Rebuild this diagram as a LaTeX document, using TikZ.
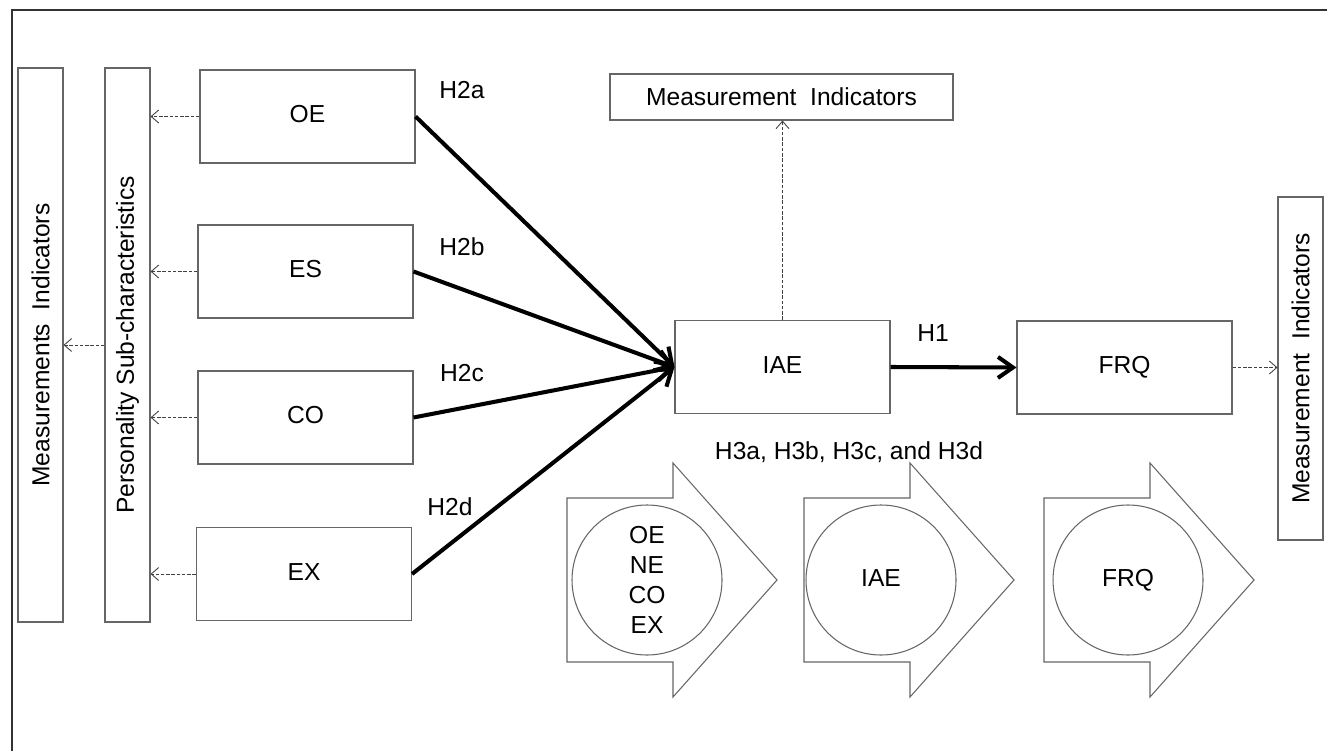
\documentclass[tikz,border=0pt]{standalone}
\usepackage{fontspec}
\setmainfont{Liberation Sans}
\usetikzlibrary{arrows.meta,positioning}

\begin{document}
\begin{tikzpicture}[
  font=\fontsize{14}{17}\selectfont,
  box/.style={draw=black!60, line width=0.6pt, minimum width=4.3cm, minimum height=1.86cm, text height=1.38ex, text depth=0pt},
  tallbox/.style={draw=black!60, line width=0.6pt, rotate=90, inner sep=0pt, minimum width=11.08cm, minimum height=0.9cm},
  indbox/.style={draw=black!60, line width=0.6pt, inner sep=0pt, minimum width=6.86cm, minimum height=0.92cm},
  ring/.style={circle, draw=black!60, line width=0.6pt, minimum size=3cm, align=center, inner sep=0pt},
  outline/.style={draw=black!60, line width=0.6pt, line join=miter},
  dashto/.style={draw=black!75, line width=0.5pt, dash pattern=on 2pt off 1pt, -{Straight Barb[length=1.5mm, width=2.6mm]}},
  hypo/.style={line width=2.3pt, -{Straight Barb[length=3mm, width=4.2mm]}}
]
\useasboundingbox (0,0) rectangle (26.54,-15.02);
\draw[line width=1.3pt, black!80] (0.24,-15.02) -- (0.24,-0.2) -- (26.54,-0.2);

\node[tallbox] (mil) at (0.81,-6.9) {Measurements~ Indicators};
\node[tallbox] (psc) at (2.55,-6.9) {Personality Sub-characteristics};

\node[box] (oe) at (6.15,-2.33) {OE};
\node[box] (es) at (6.11,-5.43) {ES};
\node[box] (co) at (6.11,-8.35) {CO};
\node[box] (ex) at (6.08,-11.48) {EX};

\node[box] (iae) at (15.65,-7.34) {IAE};
\node[box] (frq) at (22.49,-7.35) {FRQ};
\node[indbox] (mit) at (15.63,-1.94) {Measurement~ Indicators};
\node[tallbox, minimum width=6.86cm] (mir) at (26.01,-7.37) {Measurement~ Indicators};

\node (h2a) at (9.24,-1.8) {H2a};
\node (h2b) at (9.24,-4.94) {H2b};
\node (h2c) at (9.24,-7.46) {H2c};
\node (h2d) at (9.0,-10.14) {H2d};
\node (h1) at (18.66,-6.66) {H1};
\node (h3) at (16.98,-9.04) {H3a, H3b, H3c, and H3d};

% dashed links to the indicators
\foreach \b in {oe,es,co,ex}
  \draw[dashto] (\b.west) -- (\b.west -| psc.south);
\draw[dashto] (psc.north) -- (mil.south);
\draw[dashto] (iae.north) -- (iae.north |- mit.south);
\draw[dashto] (frq.east) -- (frq.east -| mir.north);

% hypotheses
\draw[hypo] (oe.east) -- (iae.west);
\draw[hypo] (es.east) -- (iae.west);
\draw[hypo] (co.east) -- (iae.west);
\draw[hypo] (ex.east) -- (iae.west);
\draw[hypo] (iae.east) -- (frq.west);

% block arrows
\foreach \x in {11.34,16.08,20.88}
  \draw[outline] (\x,-9.96) -- (\x+2.12,-9.96) -- (\x+2.12,-9.26) -- (\x+4.2,-11.6)
    -- (\x+2.12,-13.94) -- (\x+2.12,-13.24) -- (\x,-13.24) -- cycle;
\node[ring] (c1) at (12.94,-11.6) {OE\\NE\\CO\\EX};
\node[ring, text height=1.38ex, text depth=0pt] (c2) at (17.62,-11.6) {IAE};
\node[ring, text height=1.38ex, text depth=0pt] (c3) at (22.56,-11.6) {FRQ};
\end{tikzpicture}
\end{document}
